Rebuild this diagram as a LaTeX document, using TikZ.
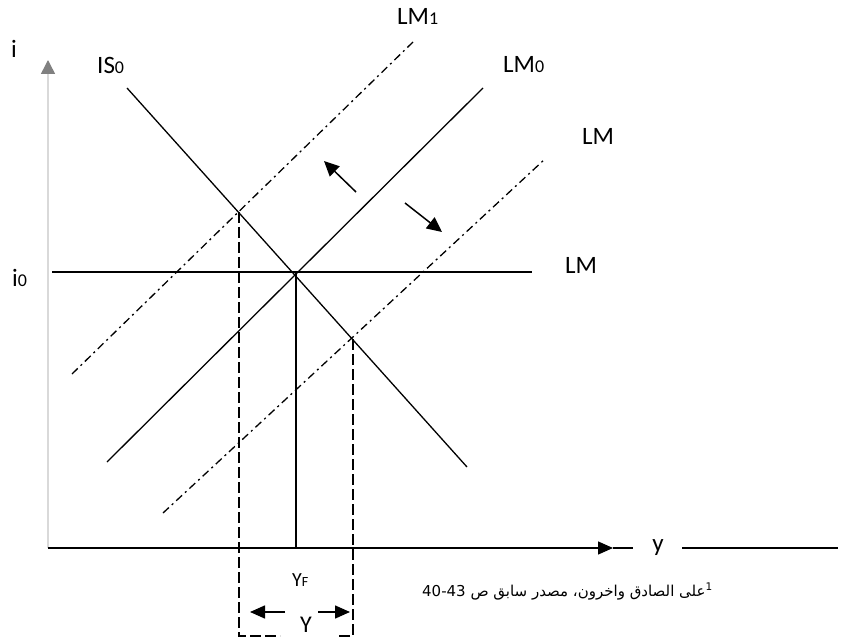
\documentclass[tikz,border=0pt]{standalone}
\usepackage{fontspec}
\setmainfont{Carlito}
\newfontfamily\arabicfont[Script=Arabic]{DejaVu Sans}
\usetikzlibrary{arrows.meta}
\TeXXeTstate=1
\definecolor{axisgray}{HTML}{D9D9D9}
\definecolor{tipgray}{HTML}{808080}
\tikzset{
  curve/.style={line width=1.3pt},
  dashdot/.style={line width=1.3pt, dash pattern=on 8pt off 4pt on 2pt off 4pt},
  boxdash/.style={line width=1.3pt, dash pattern=on 11pt off 4pt},
  shiftarrow/.style={line width=1.5pt, -{Triangle[length=15pt,width=14pt]}},
  lbl/.style={inner sep=0pt, anchor=base west, font=\fontsize{25}{28}\selectfont},
}
\newcommand{\sub}[1]{{\fontsize{18}{20}\selectfont #1}}
\begin{document}
\begin{tikzpicture}[x=1pt,y=-1pt]
\useasboundingbox (0,0) rectangle (841,639);
% axes
\coordinate (O) at (48,548);
\coordinate (Ytop) at (48,60);
\coordinate (Xtip) at (613,548);
\coordinate (Xa) at (633,548);
\coordinate (Xb) at (682,548);
\coordinate (Xc) at (838,548);
\draw[axisgray, line width=1.5pt, -{Triangle[length=14pt,width=14pt,color=tipgray]}] (O) -- (Ytop);
\draw[line width=1.4pt, -{Triangle[length=15pt,width=13pt]}] (O) -- (Xtip);
\draw[line width=1.4pt] (Xtip) -- (Xa);
\draw[line width=1.4pt] (Xb) -- (Xc);
\node[inner sep=0pt, anchor=base, font=\fontsize{25}{28}\selectfont] (ylab) at (658,551) {y};
\node[lbl] (ilab) at (11,58) {i};
% curves
\coordinate (IS1) at (127,88);   \coordinate (IS2) at (467,467);
\coordinate (LM0a) at (107,462); \coordinate (LM0b) at (483,88);
\coordinate (LM1a) at (72,374);  \coordinate (LM1b) at (413,42);
\coordinate (LMa) at (163,513);  \coordinate (LMb) at (545,159);
\coordinate (I0a) at (52,272);   \coordinate (I0b) at (532,272);
\draw[curve] (IS1) -- (IS2);
\draw[curve] (LM0a) -- (LM0b);
\draw[dashdot] (LM1a) -- (LM1b);
\draw[dashdot] (LMa) -- (LMb);
\draw[curve] (I0a) -- (I0b);
% labels
\node[lbl] (islab) at (97,74) {IS\sub{0}};
\node[lbl] (lm1lab) at (397,25) {LM\sub{1}};
\node[lbl] (lm0lab) at (503,73) {LM\sub{0}};
\node[lbl] (lmup) at (582,145) {LM};
\node[lbl] (lmlow) at (565,273) {LM};
\node[lbl] (i0lab) at (12,287) {i\sub{0}};
% equilibrium vertical and box
\coordinate (E) at (296,272);  \coordinate (EF) at (296,548);
\coordinate (L1) at (239,212); \coordinate (L2) at (239,636);
\coordinate (GL) at (280,636); \coordinate (GR) at (337,636);
\coordinate (R2) at (353,636); \coordinate (R1) at (353,339);
\draw[curve] (E) -- (EF);
\draw[boxdash] (L1) -- (L2) -- (GL);
\draw[boxdash] (R1) -- (R2) -- (GR);
% shift arrows
\coordinate (A1s) at (356,192); \coordinate (A1e) at (324,161);
\coordinate (A2s) at (405,203); \coordinate (A2e) at (442,232);
\draw[shiftarrow] (A1s) -- (A1e);
\draw[shiftarrow] (A2s) -- (A2e);
% bottom labels and arrows
\node[inner sep=0pt, anchor=base west, font=\fontsize{20}{22}\selectfont] (yf) at (292,586) {Y{\fontsize{14}{16}\selectfont F}};
\node[inner sep=0pt, anchor=base west, font=\fontsize{24}{26}\selectfont] (ybig) at (300,632) {Y};
\coordinate (B1s) at (285,612); \coordinate (B1e) at (250,612);
\coordinate (B2s) at (318,612); \coordinate (B2e) at (350,612);
\draw[line width=1.5pt, -{Triangle[length=15pt,width=13pt]}] (B1s) -- (B1e);
\draw[line width=1.5pt, -{Triangle[length=15pt,width=13pt]}] (B2s) -- (B2e);
% footnote
\node[inner sep=0pt, anchor=base west, font=\arabicfont\fontsize{15}{17}\selectfont] (fn) at (422,596) {\beginR\textsuperscript{1}على الصادق واخرون، مصدر سابق ص \beginL 40-43\endL\endR};
\end{tikzpicture}
\end{document}
